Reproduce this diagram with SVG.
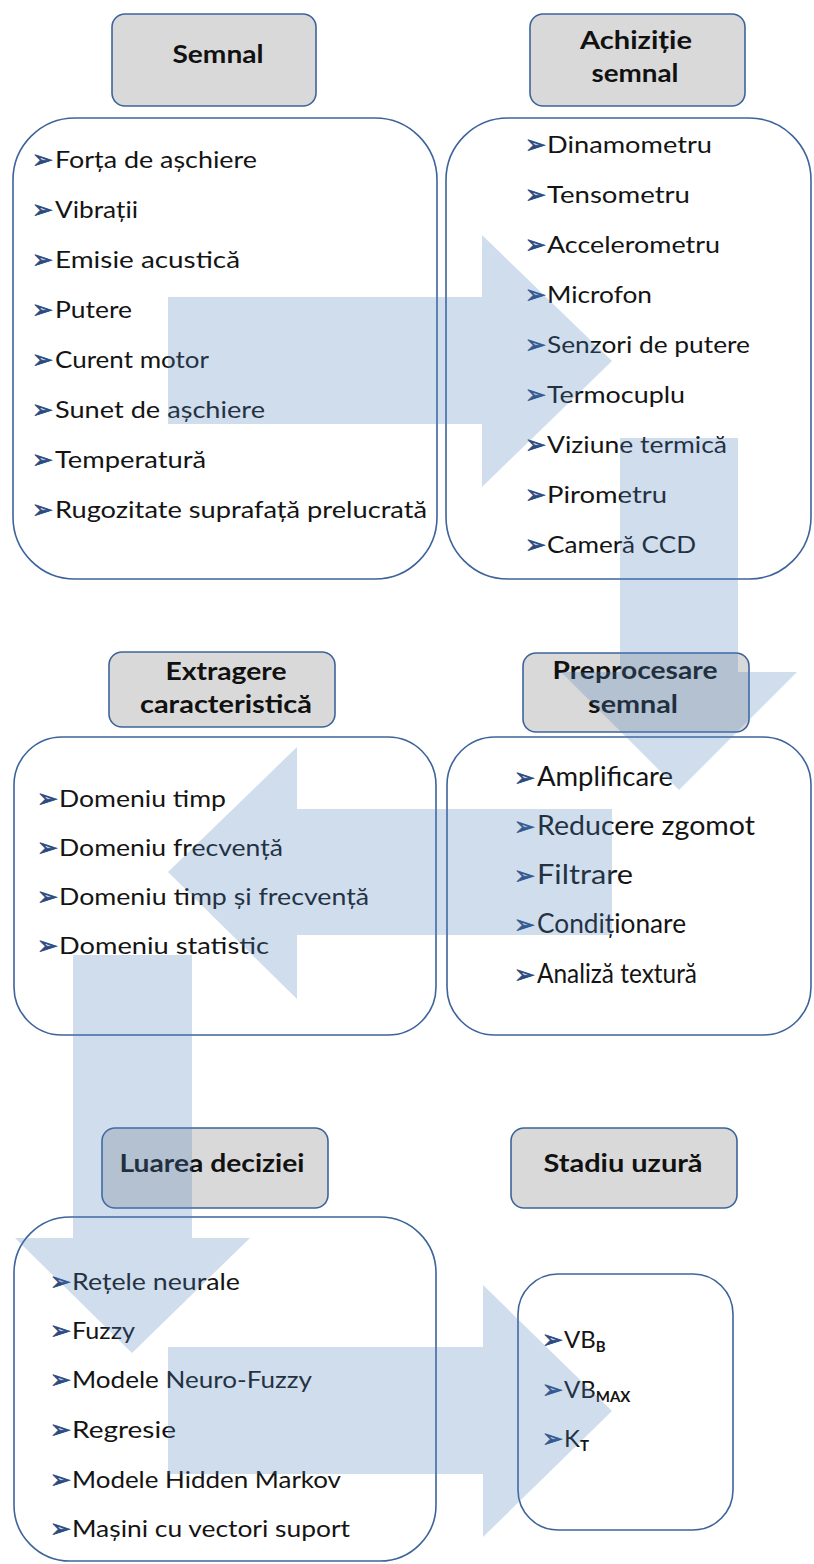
<svg xmlns="http://www.w3.org/2000/svg" width="814" height="1564" viewBox="0 0 814 1564">
  <style>
    .hdr { fill: #d9d9d9; stroke: #3d649a; stroke-width: 1.6; }
    .box { fill: #ffffff; stroke: #3d649a; stroke-width: 1.6; }
    .ht { font-family: Lato, "Liberation Sans", sans-serif; font-weight: 700; font-size: 25px; fill: #111111; text-anchor: middle; }
    .it { font-family: Lato, "Liberation Sans", sans-serif; font-size: 24px; fill: #141414; }
    .big { font-size: 27px; }
    .sub { font-size: 15px; font-weight: 700; }
    .bul { font-family: "DejaVu Sans", sans-serif; font-size: 25px; fill: #2b4a80; stroke: #2b4a80; stroke-width: 0.7; }
    .flow { fill: #4f81bd; fill-opacity: 0.27; stroke: none; }
  </style>

  <!-- Stage 1: signal -->
  <g id="semnal">
    <rect class="hdr" x="112" y="14" width="204" height="92" rx="13"/>
    <text class="ht" x="218" y="63" textLength="91" lengthAdjust="spacingAndGlyphs">Semnal</text>
    <rect class="box" x="13" y="118" width="424" height="461" rx="62"/>
    <g class="bul">
      <text x="32" y="168">➢</text><text x="32" y="218">➢</text><text x="32" y="268">➢</text><text x="32" y="318">➢</text>
      <text x="32" y="368">➢</text><text x="32" y="418">➢</text><text x="32" y="468">➢</text><text x="32" y="518">➢</text>
    </g>
    <text class="it" x="55" y="168" textLength="202" lengthAdjust="spacingAndGlyphs">Forța de așchiere</text>
    <text class="it" x="55" y="218" textLength="83" lengthAdjust="spacingAndGlyphs">Vibrații</text>
    <text class="it" x="55" y="268" textLength="185" lengthAdjust="spacingAndGlyphs">Emisie acustică</text>
    <text class="it" x="55" y="318" textLength="77" lengthAdjust="spacingAndGlyphs">Putere</text>
    <text class="it" x="55" y="368" textLength="154" lengthAdjust="spacingAndGlyphs">Curent motor</text>
    <text class="it" x="55" y="418" textLength="210" lengthAdjust="spacingAndGlyphs">Sunet de așchiere</text>
    <text class="it" x="55" y="468" textLength="151" lengthAdjust="spacingAndGlyphs">Temperatură</text>
    <text class="it" x="55" y="518" textLength="372" lengthAdjust="spacingAndGlyphs">Rugozitate suprafață prelucrată</text>
  </g>

  <!-- Stage 2: acquisition -->
  <g id="achizitie">
    <rect class="hdr" x="530" y="14" width="215" height="92" rx="13"/>
    <text class="ht" x="636" y="49" textLength="112" lengthAdjust="spacingAndGlyphs">Achiziție</text>
    <text class="ht" x="635" y="82" textLength="87" lengthAdjust="spacingAndGlyphs">semnal</text>
    <rect class="box" x="446" y="118" width="365" height="461" rx="62"/>
    <g class="bul">
      <text x="525" y="153">➢</text><text x="525" y="203">➢</text><text x="525" y="253">➢</text>
      <text x="525" y="303">➢</text><text x="525" y="353">➢</text><text x="525" y="403">➢</text>
      <text x="525" y="453">➢</text><text x="525" y="503">➢</text><text x="525" y="553">➢</text>
    </g>
    <text class="it" x="547" y="153" textLength="165" lengthAdjust="spacingAndGlyphs">Dinamometru</text>
    <text class="it" x="547" y="203" textLength="143" lengthAdjust="spacingAndGlyphs">Tensometru</text>
    <text class="it" x="547" y="253" textLength="173" lengthAdjust="spacingAndGlyphs">Accelerometru</text>
    <text class="it" x="547" y="303" textLength="105" lengthAdjust="spacingAndGlyphs">Microfon</text>
    <text class="it" x="547" y="353" textLength="203" lengthAdjust="spacingAndGlyphs">Senzori de putere</text>
    <text class="it" x="547" y="403" textLength="138" lengthAdjust="spacingAndGlyphs">Termocuplu</text>
    <text class="it" x="547" y="453" textLength="180" lengthAdjust="spacingAndGlyphs">Viziune termică</text>
    <text class="it" x="547" y="503" textLength="120" lengthAdjust="spacingAndGlyphs">Pirometru</text>
    <text class="it" x="547" y="553" textLength="149" lengthAdjust="spacingAndGlyphs">Cameră CCD</text>
  </g>

  <!-- Stage 3: preprocessing -->
  <g id="preprocesare">
    <rect class="hdr" x="523" y="653" width="226" height="79" rx="13"/>
    <text class="ht" x="635" y="679" textLength="165" lengthAdjust="spacingAndGlyphs">Preprocesare</text>
    <text class="ht" x="633" y="713" textLength="90" lengthAdjust="spacingAndGlyphs">semnal</text>
    <rect class="box" x="447" y="737" width="364" height="298" rx="48"/>
    <g class="bul">
      <text x="514" y="786">➢</text><text x="514" y="835">➢</text><text x="514" y="884">➢</text>
      <text x="514" y="933">➢</text><text x="514" y="983">➢</text>
    </g>
    <text class="it big" x="537" y="786" textLength="136" lengthAdjust="spacingAndGlyphs">Amplificare</text>
    <text class="it big" x="537" y="835" textLength="218" lengthAdjust="spacingAndGlyphs">Reducere zgomot</text>
    <text class="it big" x="537" y="884" textLength="96" lengthAdjust="spacingAndGlyphs">Filtrare</text>
    <text class="it big" x="537" y="933" textLength="149" lengthAdjust="spacingAndGlyphs">Condiționare</text>
    <text class="it big" x="537" y="983" textLength="160" lengthAdjust="spacingAndGlyphs">Analiză textură</text>
  </g>

  <!-- Stage 4: feature extraction -->
  <g id="extragere">
    <rect class="hdr" x="109" y="652" width="226" height="75" rx="13"/>
    <text class="ht" x="226" y="680" textLength="121" lengthAdjust="spacingAndGlyphs">Extragere</text>
    <text class="ht" x="226" y="713" textLength="172" lengthAdjust="spacingAndGlyphs">caracteristică</text>
    <rect class="box" x="14" y="737" width="422" height="298" rx="48"/>
    <g class="bul">
      <text x="37" y="807">➢</text><text x="37" y="856">➢</text><text x="37" y="905">➢</text><text x="37" y="954">➢</text>
    </g>
    <text class="it" x="59" y="807" textLength="167" lengthAdjust="spacingAndGlyphs">Domeniu timp</text>
    <text class="it" x="59" y="856" textLength="224" lengthAdjust="spacingAndGlyphs">Domeniu frecvență</text>
    <text class="it" x="59" y="905" textLength="310" lengthAdjust="spacingAndGlyphs">Domeniu timp și frecvență</text>
    <text class="it" x="59" y="954" textLength="210" lengthAdjust="spacingAndGlyphs">Domeniu statistic</text>
  </g>

  <!-- Stage 5: decision -->
  <g id="decizie">
    <rect class="hdr" x="102" y="1128" width="226" height="80" rx="13"/>
    <text class="ht" x="212" y="1172" textLength="185" lengthAdjust="spacingAndGlyphs">Luarea deciziei</text>
    <rect class="box" x="14" y="1217" width="422" height="344" rx="56"/>
    <g class="bul">
      <text x="50" y="1290">➢</text><text x="50" y="1339">➢</text><text x="50" y="1388">➢</text>
      <text x="50" y="1438">➢</text><text x="50" y="1488">➢</text><text x="50" y="1537">➢</text>
    </g>
    <text class="it" x="72" y="1290" textLength="168" lengthAdjust="spacingAndGlyphs">Rețele neurale</text>
    <text class="it" x="72" y="1339" textLength="63" lengthAdjust="spacingAndGlyphs">Fuzzy</text>
    <text class="it" x="72" y="1388" textLength="240" lengthAdjust="spacingAndGlyphs">Modele Neuro-Fuzzy</text>
    <text class="it" x="72" y="1438" textLength="104" lengthAdjust="spacingAndGlyphs">Regresie</text>
    <text class="it" x="72" y="1488" textLength="269" lengthAdjust="spacingAndGlyphs">Modele Hidden Markov</text>
    <text class="it" x="72" y="1537" textLength="278" lengthAdjust="spacingAndGlyphs">Mașini cu vectori suport</text>
  </g>

  <!-- Stage 6: wear state -->
  <g id="stadiu">
    <rect class="hdr" x="511" y="1128" width="226" height="80" rx="13"/>
    <text class="ht" x="623" y="1172" textLength="159" lengthAdjust="spacingAndGlyphs">Stadiu uzură</text>
    <rect class="box" x="518" y="1274" width="215" height="256" rx="40"/>
    <g class="bul">
      <text x="542" y="1348">➢</text><text x="542" y="1398">➢</text><text x="542" y="1447">➢</text>
    </g>
    <text class="it" x="564" y="1348">VB<tspan class="sub" dy="4">B</tspan></text>
    <text class="it" x="564" y="1398">VB<tspan class="sub" dy="4">MAX</tspan></text>
    <text class="it" x="564" y="1447">K<tspan class="sub" dy="4">T</tspan></text>
  </g>

  <!-- Process flow arrows, translucent over the boxes -->
  <g id="connectors">
    <path class="flow" d="M168,297 H482 V235 L612,361 L482,487 V424 H168 Z"/>
    <path class="flow" d="M620,438 H738 V672 H797 L679,790 L561,672 H620 Z"/>
    <path class="flow" d="M612,809 V935 H297 V999 L168,872 L297,747 V809 Z"/>
    <path class="flow" d="M73,955 H192 V1238 H250 L132,1353 L15,1238 H73 Z"/>
    <path class="flow" d="M168,1347 H483 V1285 L612,1411 L483,1537 V1474 H168 Z"/>
  </g>
</svg>
